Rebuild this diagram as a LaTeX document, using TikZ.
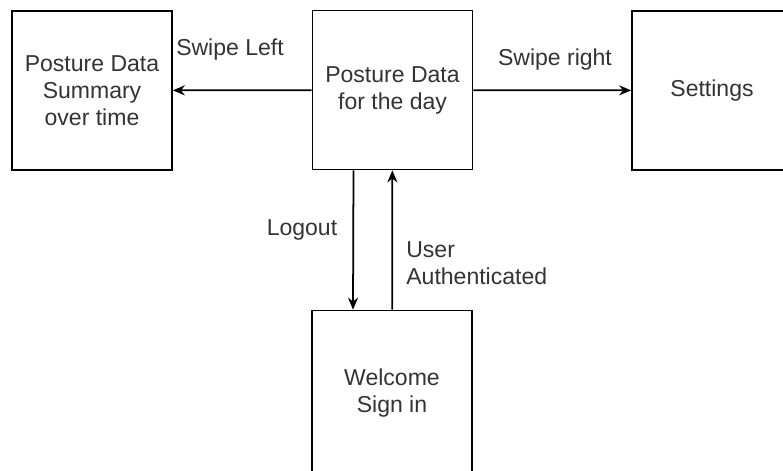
\documentclass[tikz,border=0pt]{standalone}
\usepackage{fontspec}
\setmainfont{Liberation Sans}
\usetikzlibrary{arrows.meta}

\begin{document}
\begin{tikzpicture}[
	screen/.style={draw, line width=1pt, minimum width=3.2cm, minimum height=3.18cm, align=center, text=black!80, inner sep=0pt},
	lbl/.style={text=black!80, inner sep=0pt},
	flow/.style={-{Stealth[length=0.24cm,width=0.2cm]}, line width=1pt},
	font=\fontsize{13.1}{15.4}\selectfont
]
	\useasboundingbox (0,0) rectangle (15.66,-9.4);
	\clip (0,0) rectangle (15.66,-9.4);

	\node[screen] (summary) at (1.84,-1.81) {Posture Data\\Summary\\over time};
	\node[screen] (day) at (7.85,-1.8) {Posture Data\\for the day};
	\node[screen] (settings) at (14.24,-1.81) {Settings};
	\node[screen, minimum height=3.3cm] (signin) at (7.84,-7.86) {Welcome\\Sign in};

	\draw[flow] (day) -- (summary);
	\draw[flow] (day) -- (settings);
	\draw[flow] ([xshift=-0.78cm]day.south) -- ([xshift=-0.78cm]signin.north);
	\draw[flow] (signin) -- (day);

	\node[lbl] (left) at (4.6,-1.0) {Swipe Left};
	\node[lbl] (right) at (11.1,-1.2) {Swipe right};
	\node[lbl] (logout) at (6.04,-4.6) {Logout};
	\node[lbl, anchor=west, align=left] (auth) at (8.12,-5.26) {User\\Authenticated};
\end{tikzpicture}
\end{document}
